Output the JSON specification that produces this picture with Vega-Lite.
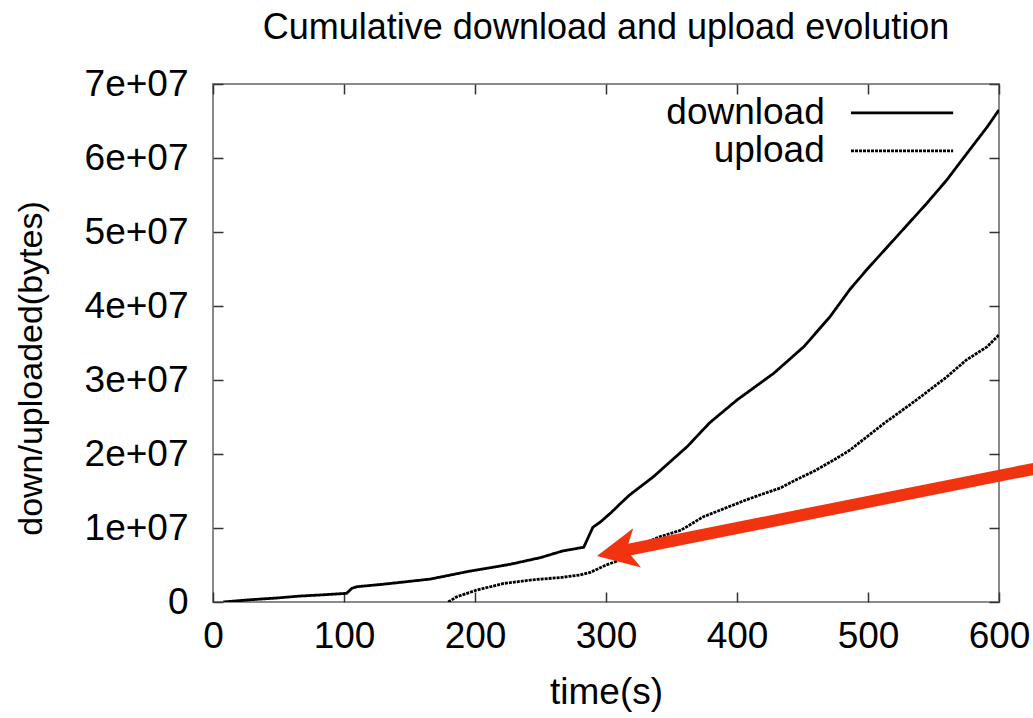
{
  "$schema": "https://vega.github.io/schema/vega-lite/v6.json",
  "width": 786,
  "height": 518,
  "autosize": {"type": "none"},
  "padding": {"left": 213, "top": 84, "right": 34, "bottom": 116},
  "background": "white",
  "title": {
    "text": "Cumulative download and upload evolution",
    "font": "Liberation Sans",
    "fontSize": 36,
    "fontWeight": "normal",
    "color": "black",
    "anchor": "middle",
    "offset": 18
  },
  "config": {
    "view": {"stroke": "#8a8a8a", "strokeWidth": 2},
    "axis": {
      "labelFont": "Liberation Sans",
      "titleFont": "Liberation Sans",
      "labelColor": "black",
      "titleColor": "black",
      "titleFontWeight": "normal",
      "domain": false,
      "grid": false,
      "tickColor": "#333333",
      "tickWidth": 1.5,
      "tickSize": -10
    }
  },
  "datasets": {
    "traffic": [
      {"time": 7.9, "bytes": 0, "series": "download"},
      {"time": 28, "bytes": 300000, "series": "download"},
      {"time": 48.6, "bytes": 540000, "series": "download"},
      {"time": 66, "bytes": 800000, "series": "download"},
      {"time": 82, "bytes": 950000, "series": "download"},
      {"time": 102, "bytes": 1170000, "series": "download"},
      {"time": 106, "bytes": 1850000, "series": "download"},
      {"time": 110, "bytes": 2070000, "series": "download"},
      {"time": 130, "bytes": 2400000, "series": "download"},
      {"time": 148, "bytes": 2750000, "series": "download"},
      {"time": 166, "bytes": 3100000, "series": "download"},
      {"time": 194, "bytes": 4100000, "series": "download"},
      {"time": 227, "bytes": 5100000, "series": "download"},
      {"time": 250, "bytes": 6000000, "series": "download"},
      {"time": 267, "bytes": 6900000, "series": "download"},
      {"time": 283, "bytes": 7400000, "series": "download"},
      {"time": 290, "bytes": 10100000, "series": "download"},
      {"time": 296, "bytes": 10850000, "series": "download"},
      {"time": 304, "bytes": 12100000, "series": "download"},
      {"time": 311, "bytes": 13300000, "series": "download"},
      {"time": 318, "bytes": 14460000, "series": "download"},
      {"time": 336, "bytes": 16900000, "series": "download"},
      {"time": 362, "bytes": 21000000, "series": "download"},
      {"time": 379, "bytes": 24200000, "series": "download"},
      {"time": 400, "bytes": 27300000, "series": "download"},
      {"time": 428, "bytes": 30900000, "series": "download"},
      {"time": 451, "bytes": 34500000, "series": "download"},
      {"time": 471, "bytes": 38550000, "series": "download"},
      {"time": 486, "bytes": 42200000, "series": "download"},
      {"time": 499, "bytes": 44900000, "series": "download"},
      {"time": 522, "bytes": 49400000, "series": "download"},
      {"time": 545, "bytes": 53900000, "series": "download"},
      {"time": 560, "bytes": 57000000, "series": "download"},
      {"time": 575, "bytes": 60500000, "series": "download"},
      {"time": 591, "bytes": 64200000, "series": "download"},
      {"time": 600, "bytes": 66500000, "series": "download"},
      {"time": 179.6, "bytes": 0, "series": "upload"},
      {"time": 186, "bytes": 700000, "series": "upload"},
      {"time": 201, "bytes": 1600000, "series": "upload"},
      {"time": 222, "bytes": 2500000, "series": "upload"},
      {"time": 244, "bytes": 3000000, "series": "upload"},
      {"time": 265, "bytes": 3300000, "series": "upload"},
      {"time": 280, "bytes": 3650000, "series": "upload"},
      {"time": 288, "bytes": 4000000, "series": "upload"},
      {"time": 300, "bytes": 5000000, "series": "upload"},
      {"time": 308, "bytes": 5500000, "series": "upload"},
      {"time": 323, "bytes": 7500000, "series": "upload"},
      {"time": 341, "bytes": 8800000, "series": "upload"},
      {"time": 357, "bytes": 9700000, "series": "upload"},
      {"time": 362, "bytes": 10200000, "series": "upload"},
      {"time": 374, "bytes": 11500000, "series": "upload"},
      {"time": 387, "bytes": 12400000, "series": "upload"},
      {"time": 407, "bytes": 13800000, "series": "upload"},
      {"time": 418, "bytes": 14500000, "series": "upload"},
      {"time": 433, "bytes": 15400000, "series": "upload"},
      {"time": 446, "bytes": 16600000, "series": "upload"},
      {"time": 458, "bytes": 17600000, "series": "upload"},
      {"time": 474, "bytes": 19200000, "series": "upload"},
      {"time": 486, "bytes": 20500000, "series": "upload"},
      {"time": 491, "bytes": 21200000, "series": "upload"},
      {"time": 512, "bytes": 24100000, "series": "upload"},
      {"time": 537, "bytes": 27300000, "series": "upload"},
      {"time": 560, "bytes": 30400000, "series": "upload"},
      {"time": 575, "bytes": 32700000, "series": "upload"},
      {"time": 591, "bytes": 34500000, "series": "upload"},
      {"time": 600, "bytes": 36100000, "series": "upload"}
    ],
    "key": [
      {"series": "download", "labelTime": 467, "from": 487, "to": 565, "bytes": 66100000},
      {"series": "upload", "labelTime": 467, "from": 487, "to": 565, "bytes": 60950000}
    ],
    "arrowShaft": [
      {"time": 631.3, "bytes": 18160000},
      {"time": 311.8, "bytes": 6880000}
    ],
    "arrowHead": [
      {"time": 293.1, "bytes": 6220000}
    ]
  },
  "layer": [
    {
      "data": {"name": "traffic"},
      "mark": {"type": "line", "color": "black", "strokeWidth": 2.8, "clip": true},
      "encoding": {
        "x": {
          "field": "time",
          "type": "quantitative",
          "scale": {"domain": [0, 600], "nice": false, "zero": false},
          "axis": {
            "orient": "bottom",
            "values": [0, 100, 200, 300, 400, 500, 600],
            "labelFontSize": 37,
            "labelPadding": 26,
            "labelFlush": false,
            "labelOverlap": false,
            "title": "time(s)",
            "titleFontSize": 37,
            "titlePadding": 20
          }
        },
        "y": {
          "field": "bytes",
          "type": "quantitative",
          "scale": {"domain": [0, 70000000], "nice": false},
          "axis": {
            "orient": "left",
            "values": [0, 10000000, 20000000, 30000000, 40000000, 50000000, 60000000, 70000000],
            "labelExpr": "datum.value == 0 ? '0' : (datum.value / 10000000) + 'e+07'",
            "labelFontSize": 37,
            "labelPadding": 35,
            "labelFlush": false,
            "labelOverlap": false,
            "title": "down/uploaded(bytes)",
            "titleFontSize": 34,
            "titlePadding": 36,
            "titleY": 284
          }
        },
        "detail": {"field": "series"},
        "strokeDash": {
          "field": "series",
          "type": "nominal",
          "scale": {"domain": ["download", "upload"], "range": [[1, 0], [3, 1]]},
          "legend": null
        }
      }
    },
    {
      "data": {"name": "key"},
      "mark": {"type": "rule", "color": "black", "strokeWidth": 2.8},
      "encoding": {
        "x": {
          "field": "from",
          "type": "quantitative",
          "axis": {
            "orient": "top",
            "values": [0, 100, 200, 300, 400, 500, 600],
            "labels": false,
            "title": null
          }
        },
        "x2": {"field": "to"},
        "y": {
          "field": "bytes",
          "type": "quantitative",
          "axis": {
            "orient": "right",
            "values": [0, 10000000, 20000000, 30000000, 40000000, 50000000, 60000000, 70000000],
            "labels": false,
            "title": null
          }
        },
        "strokeDash": {
          "field": "series",
          "type": "nominal",
          "scale": {"domain": ["download", "upload"], "range": [[1, 0], [3, 1]]},
          "legend": null
        }
      }
    },
    {
      "data": {"name": "key"},
      "mark": {
        "type": "text",
        "align": "right",
        "baseline": "middle",
        "font": "Liberation Sans",
        "fontSize": 37,
        "color": "black"
      },
      "encoding": {
        "x": {"field": "labelTime", "type": "quantitative", "axis": null},
        "y": {"field": "bytes", "type": "quantitative", "axis": null},
        "text": {"field": "series"}
      }
    },
    {
      "data": {"name": "arrowShaft"},
      "mark": {"type": "line", "color": "#f2330f", "strokeWidth": 12, "strokeCap": "butt", "clip": false},
      "encoding": {
        "x": {"field": "time", "type": "quantitative", "axis": null},
        "y": {"field": "bytes", "type": "quantitative", "axis": null}
      }
    },
    {
      "data": {"name": "arrowHead"},
      "mark": {
        "type": "point",
        "shape": "M0,0L2.05,-1L1.5,0L2.05,1Z",
        "filled": true,
        "opacity": 1,
        "color": "#f2330f",
        "size": 1600,
        "angle": 348.7,
        "strokeWidth": 0,
        "clip": false
      },
      "encoding": {
        "x": {"field": "time", "type": "quantitative", "axis": null},
        "y": {"field": "bytes", "type": "quantitative", "axis": null}
      }
    }
  ],
  "resolve": {"axis": {"x": "independent", "y": "independent"}}
}
